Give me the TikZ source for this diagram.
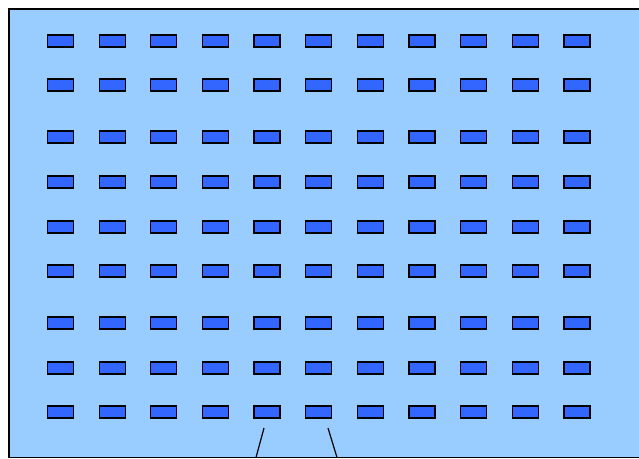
\documentclass[tikz,border=0pt]{standalone}
\usepackage{xcolor}
\usepackage{tikz}
\definecolor{hallbg}{HTML}{99CCFF}
\definecolor{seatblue}{HTML}{3366FF}

\begin{document}
\begin{tikzpicture}[
    x=1pt, y=-1pt,
    hall/.style={draw=black, fill=hallbg, line width=1.6pt},
    seat/.style={rectangle, draw=black, fill=seatblue, line width=1.3pt, minimum width=26pt, minimum height=12pt, inner sep=0pt}
]
\useasboundingbox (0,0) rectangle (639,458);
\clip (0,0) rectangle (639,458);
\draw[hall] (9,9) rectangle (660,457.5);
% seats
\foreach \r/\y in {1/41,2/85,3/137,4/182,5/227,6/271,7/323,8/368,9/412} {
  \foreach \c in {0,...,10} {
    \node[seat] (s\r-\c) at ({60.5+51.65*\c},\y) {};
  }
}
% doorway
\coordinate (d1) at (264,428);
\coordinate (d2) at (256,457.5);
\coordinate (d3) at (328,428);
\coordinate (d4) at (337,457.5);
\draw[line width=1.2pt] (d1) -- (d2);
\draw[line width=1.2pt] (d3) -- (d4);
\end{tikzpicture}
\end{document}
